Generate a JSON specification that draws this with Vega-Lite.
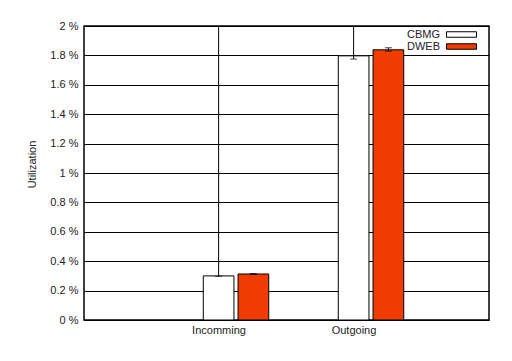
{
  "$schema": "https://vega.github.io/schema/vega-lite/v6.json",
  "width": 405,
  "height": 294,
  "autosize": {"type": "none"},
  "padding": {"left": 84, "top": 26, "right": 23, "bottom": 41},
  "background": "white",
  "config": {
    "font": "Liberation Sans",
    "view": {"stroke": "black", "strokeWidth": 1.5},
    "axis": {"labelFont": "Liberation Sans", "titleFont": "Liberation Sans", "labelColor": "#222", "titleColor": "#222"},
    "axisY": {
      "tickCount": 10, "labelExpr": "datum.value + ' %'", "labelOverlap": false,
      "labelFontSize": 11, "labelPadding": 6, "ticks": false, "domain": false,
      "grid": true, "gridColor": "black", "gridOpacity": 1, "gridWidth": 1,
      "titleFontSize": 11, "titleFontWeight": "normal",
      "titleX": -52, "titleY": 138, "titleAngle": -90, "titleAlign": "center", "titleBaseline": "middle"
    }
  },
  "data": {
    "values": [
      {"category": "Incomming", "series": "CBMG", "value": 0.30, "lo": 0.297, "hi": 2.5},
      {"category": "Incomming", "series": "DWEB", "value": 0.313, "lo": 0.310, "hi": 0.316},
      {"category": "Outgoing", "series": "CBMG", "value": 1.797, "lo": 1.775, "hi": 2.5},
      {"category": "Outgoing", "series": "DWEB", "value": 1.838, "lo": 1.829, "hi": 1.852}
    ]
  },
  "encoding": {
    "x": {
      "field": "category", "type": "nominal", "sort": null,
      "scale": {"paddingInner": 0, "paddingOuter": 0.5, "align": 0.626},
      "axis": {"title": null, "labelAngle": 0, "labelFontSize": 11, "labelOffset": -17, "labelPadding": 4, "domain": false, "ticks": false}
    },
    "xOffset": {
      "field": "series", "type": "nominal",
      "scale": {"paddingInner": 0.1176, "paddingOuter": 1.044}
    }
  },
  "layer": [
    {
      "mark": {"type": "bar", "stroke": "black", "strokeWidth": 1},
      "encoding": {
        "y": {
          "field": "value", "type": "quantitative",
          "scale": {"domain": [0, 2], "nice": false},
          "title": "Utilization"
        },
        "fill": {
          "field": "series", "type": "nominal",
          "scale": {"domain": ["CBMG", "DWEB"], "range": ["white", "#f03c00"]},
          "legend": {
            "orient": "none", "legendX": 372, "legendY": 3, "title": null,
            "symbolType": "M-3,-0.55H3V0.55H-3Z", "symbolSize": 100,
            "symbolStrokeColor": "black", "symbolStrokeWidth": 1, "symbolOpacity": 1,
            "labelAlign": "right", "labelOffset": -27, "labelFontSize": 11, "labelColor": "#222",
            "rowPadding": 0
          }
        }
      }
    },
    {
      "mark": {"type": "rule", "color": "black", "strokeWidth": 1, "clip": true},
      "encoding": {
        "y": {"field": "lo", "type": "quantitative", "title": "Utilization"},
        "y2": {"field": "hi"}
      }
    },
    {
      "mark": {"type": "tick", "color": "black", "thickness": 1, "size": 7, "clip": true},
      "encoding": {"y": {"field": "lo", "type": "quantitative", "title": "Utilization"}}
    },
    {
      "mark": {"type": "tick", "color": "black", "thickness": 1, "size": 7, "clip": true},
      "encoding": {"y": {"field": "hi", "type": "quantitative", "title": "Utilization"}}
    }
  ]
}
